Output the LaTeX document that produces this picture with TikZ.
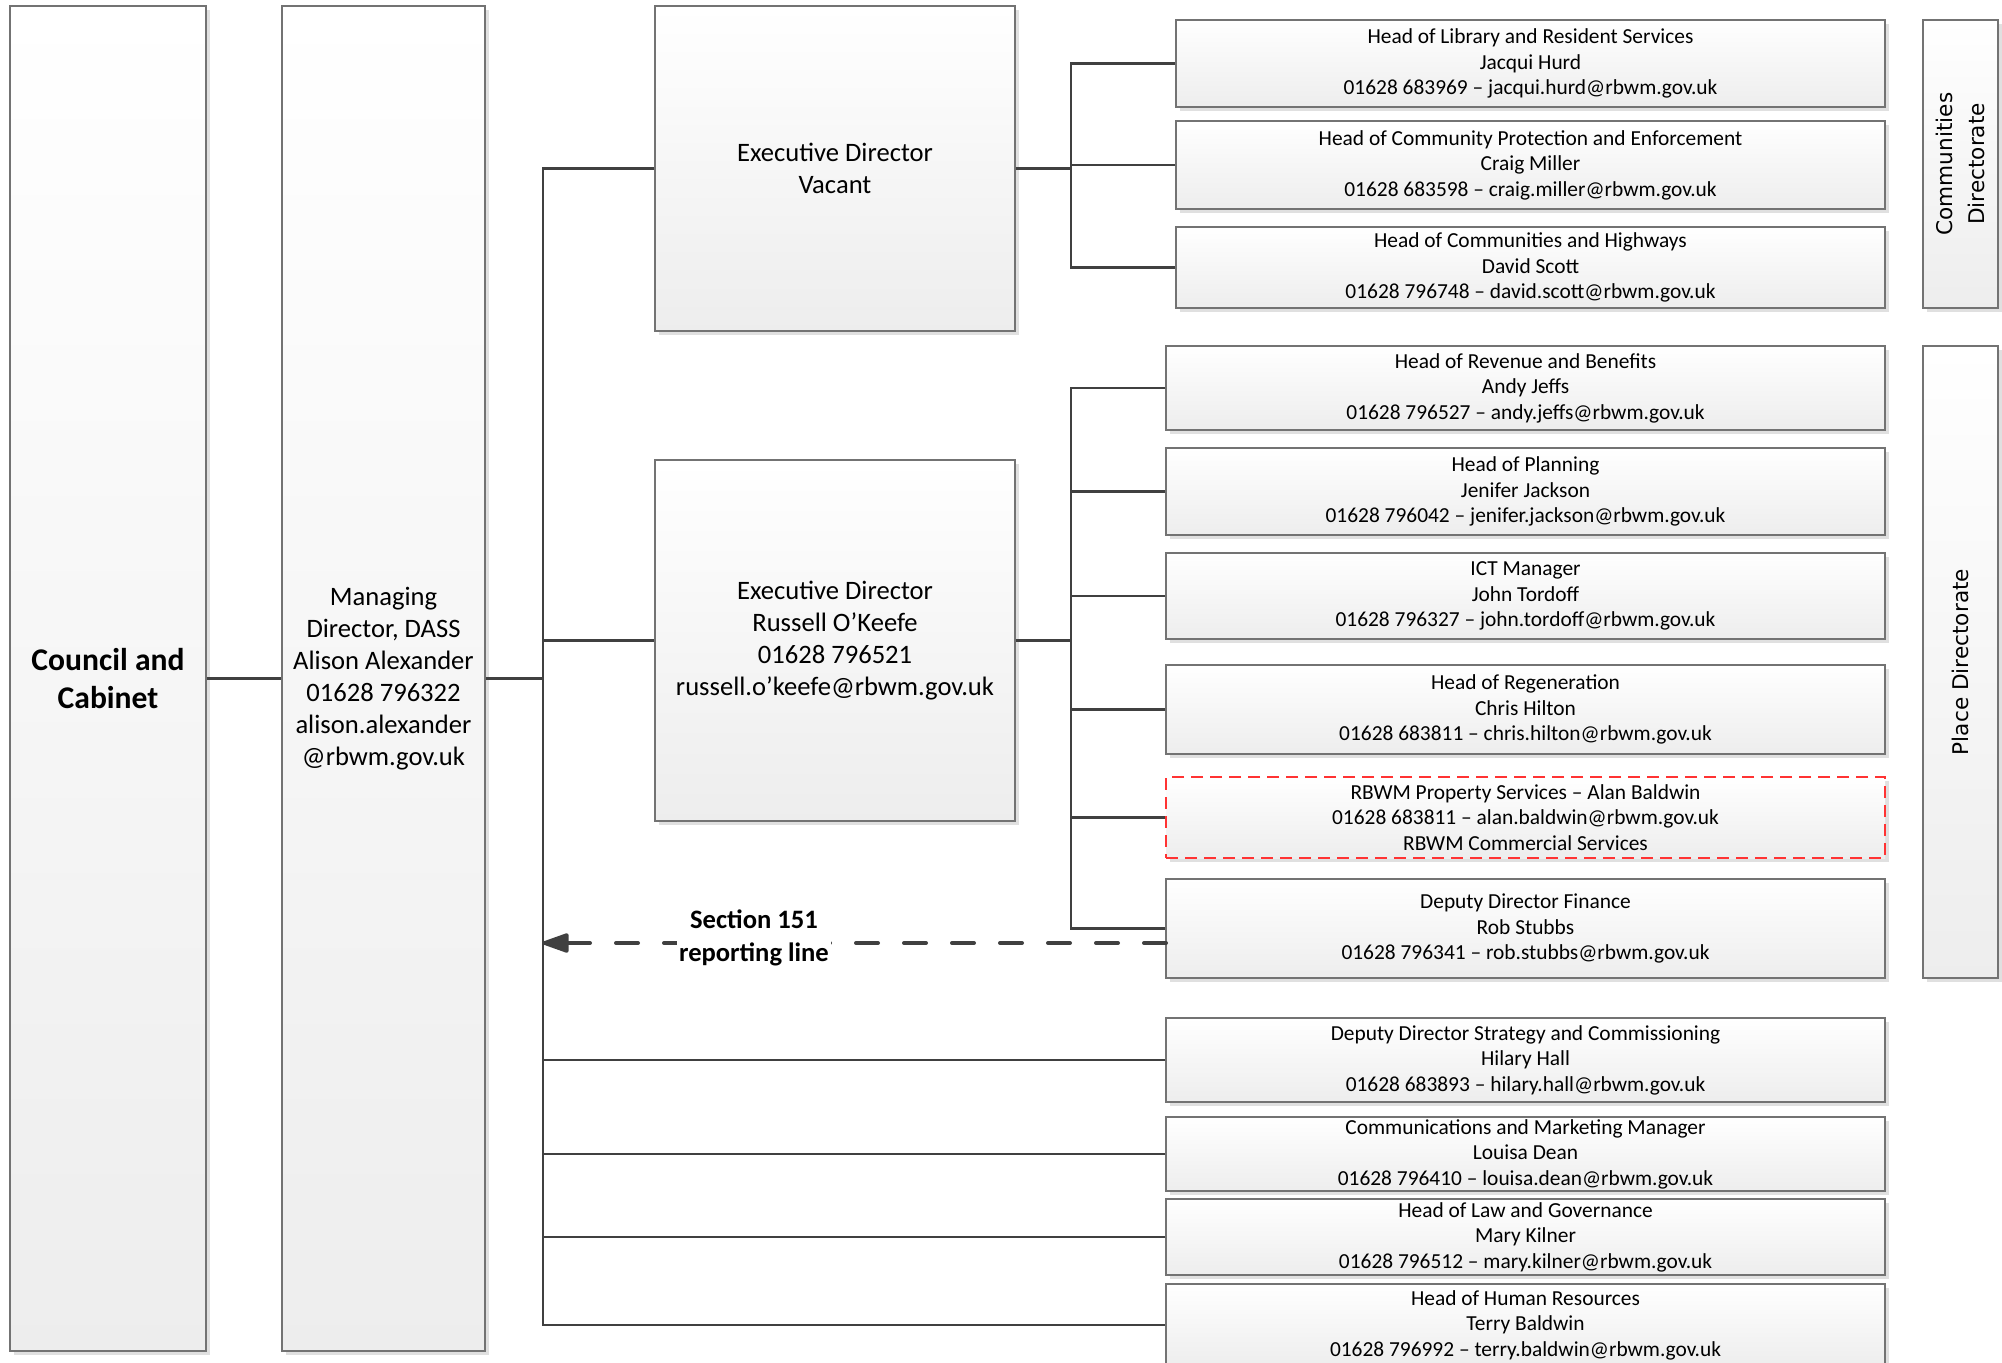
\documentclass[tikz,border=0pt]{standalone}
\usepackage{fontspec}
\setmainfont{Carlito}
\newfontfamily\dejavu{DejaVu Sans}
\usetikzlibrary{arrows.meta,shadows}
\begin{document}
\begin{tikzpicture}[x=0.5pt,y=-0.5pt,
  box/.style={draw=black!55, line width=0.7pt, top color=white, bottom color=black!7,
    drop shadow={shadow xshift=2pt, shadow yshift=-2pt, fill=black!12, opacity=1},
    align=center, inner sep=0pt},
  redbox/.style={box, draw=red!80, dash pattern=on 6pt off 3.5pt},
  smalltxt/.style={font=\fontsize{10.7}{12.75}\selectfont},
  bigtxt/.style={font=\fontsize{13.3}{16}\selectfont},
  sidetxt/.style={font=\dejavu\fontsize{10.8}{16}\selectfont, rotate=90, align=center, inner sep=0pt},
  conn/.style={draw=black!75, line width=1.25pt},
  dasharrow/.style={draw=black!75, line width=2pt, line cap=round, dash pattern=on 11pt off 13pt,
    -{Triangle[length=15pt,width=10pt,round=false]}},
]
\useasboundingbox (0,0) rectangle (2002,1363);

% left columns
\node[box, minimum width=98pt, minimum height=672.5pt, font=\bfseries\fontsize{15.8}{19}\selectfont]
  (council) at (108,678.5) {Council and\\Cabinet};
\node[box, bigtxt, minimum width=101.5pt, minimum height=672.5pt]
  (md) at (383.5,678.5) {Managing\\Director, DASS\\Alison Alexander\\01628 796322\\alison.alexander\\@rbwm.gov.uk};

% executive directors
\node[box, bigtxt, minimum width=180pt, minimum height=162.5pt]
  (edv) at (835,168.5) {Executive Director\\Vacant};
\node[box, bigtxt, minimum width=180pt, minimum height=180.5pt]
  (edr) at (835,640.5) {Executive Director\\Russell O’Keefe\\01628 796521\\russell.o’keefe@rbwm.gov.uk};

% communities
\node[box, smalltxt, minimum width=354.5pt, minimum height=43.5pt]
  (lib) at (1530.5,63.5) {Head of Library and Resident Services\\Jacqui Hurd\\01628 683969 – jacqui.hurd@rbwm.gov.uk};
\node[box, smalltxt, minimum width=354.5pt, minimum height=44pt]
  (cpe) at (1530.5,165) {Head of Community Protection and Enforcement\\Craig Miller\\01628 683598 – craig.miller@rbwm.gov.uk};
\node[box, smalltxt, minimum width=354.5pt, minimum height=40.5pt]
  (chw) at (1530.5,267.5) {Head of Communities and Highways\\David Scott\\01628 796748 – david.scott@rbwm.gov.uk};

% place
\node[box, smalltxt, minimum width=359.5pt, minimum height=42pt]
  (rev) at (1525.5,388) {Head of Revenue and Benefits\\Andy Jeffs\\01628 796527 – andy.jeffs@rbwm.gov.uk};
\node[box, smalltxt, minimum width=359.5pt, minimum height=43.5pt]
  (plan) at (1525.5,491.5) {Head of Planning\\Jenifer Jackson\\01628 796042 – jenifer.jackson@rbwm.gov.uk};
\node[box, smalltxt, minimum width=359.5pt, minimum height=43pt]
  (ict) at (1525.5,596) {ICT Manager\\John Tordoff\\01628 796327 – john.tordoff@rbwm.gov.uk};
\node[box, smalltxt, minimum width=359.5pt, minimum height=44.5pt]
  (regen) at (1525.5,709.5) {Head of Regeneration\\Chris Hilton\\01628 683811 – chris.hilton@rbwm.gov.uk};
\node[redbox, smalltxt, minimum width=359.5pt, minimum height=40.5pt]
  (rbwm) at (1525.5,817.5) {RBWM Property Services – Alan Baldwin\\01628 683811 – alan.baldwin@rbwm.gov.uk\\RBWM Commercial Services};
\node[box, smalltxt, minimum width=359.5pt, minimum height=49.5pt]
  (ddf) at (1525.5,928.5) {Deputy Director Finance\\Rob Stubbs\\01628 796341 – rob.stubbs@rbwm.gov.uk};

% direct reports
\node[box, smalltxt, minimum width=359.5pt, minimum height=42pt]
  (dds) at (1525.5,1060) {Deputy Director Strategy and Commissioning\\Hilary Hall\\01628 683893 – hilary.hall@rbwm.gov.uk};
\node[box, smalltxt, minimum width=359.5pt, minimum height=37pt]
  (cmm) at (1525.5,1154) {Communications and Marketing Manager\\Louisa Dean\\01628 796410 – louisa.dean@rbwm.gov.uk};
\node[box, smalltxt, minimum width=359.5pt, minimum height=38pt]
  (law) at (1525.5,1237) {Head of Law and Governance\\Mary Kilner\\01628 796512 – mary.kilner@rbwm.gov.uk};
\node[box, smalltxt, minimum width=359.5pt, minimum height=41pt]
  (hr) at (1525.5,1325) {Head of Human Resources\\Terry Baldwin\\01628 796992 – terry.baldwin@rbwm.gov.uk};

% directorate side boxes
\node[box, minimum width=37.5pt, minimum height=144pt] (cdbox) at (1960.5,164) {};
\node[sidetxt] (cdtxt) at (cdbox.center) {Communities\\Directorate};
\node[box, minimum width=37.5pt, minimum height=316pt] (pdbox) at (1960.5,662) {};
\node[sidetxt] (pdtxt) at (pdbox.center) {Place Directorate};

% connectors
\coordinate (trunk) at (543,0);
\coordinate (busA) at (1071,0);
\draw[conn] (council.east) -- (md.west);
\draw[conn] (md.east) -- (md.east -| trunk);
\draw[conn] (edv.west) -- (edv.west -| trunk) |- (hr.west);
\draw[conn] (edr.west) -- (edr.west -| trunk);
\draw[conn] (dds.west) -- (dds.west -| trunk);
\draw[conn] (cmm.west) -- (cmm.west -| trunk);
\draw[conn] (law.west) -- (law.west -| trunk);

\draw[conn] (edv.east) -- (edv.east -| busA);
\draw[conn] (lib.west) -- (lib.west -| busA) |- (chw.west);
\draw[conn] (cpe.west) -- (cpe.west -| busA);

\draw[conn] (edr.east) -- (edr.east -| busA);
\draw[conn] (rev.west) -- (rev.west -| busA) |- (ddf.west);
\draw[conn] (plan.west) -- (plan.west -| busA);
\draw[conn] (ict.west) -- (ict.west -| busA);
\draw[conn] (regen.west) -- (regen.west -| busA);
\draw[conn] (rbwm.west) -- (rbwm.west -| busA);

% section 151 reporting line
\coordinate (s151) at (1166,943);
\draw[dasharrow] (s151) -- (s151 -| trunk);
\node[fill=white, inner sep=1pt, align=center, font=\bfseries\fontsize{13.3}{16.5}\selectfont]
  (s151lbl) at (754,938) {Section 151\\reporting line};
\end{tikzpicture}
\end{document}
